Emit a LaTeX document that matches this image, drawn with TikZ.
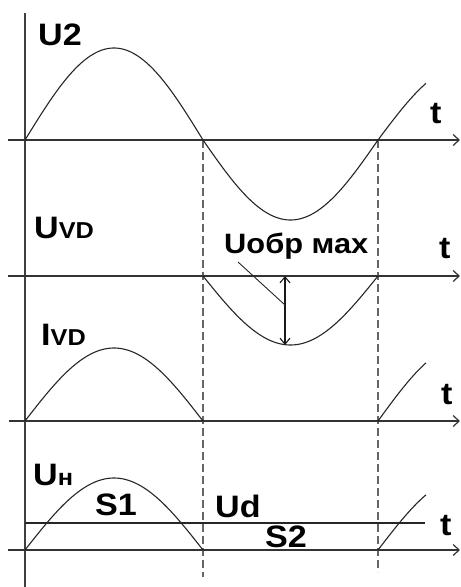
\documentclass[tikz,border=0pt]{standalone}
\usepackage{fontspec}
\setmainfont{Liberation Sans}
\newfontfamily\lblfam[FakeStretch=1.1]{Liberation Sans}
\usetikzlibrary{arrows.meta}
\newcommand\smlfont{\fontsize{23}{23}\selectfont}
\begin{document}
\begin{tikzpicture}[x=1pt,y=-1pt,
 axis/.style={line width=1.6pt, draw=black!80, -{Straight Barb[length=6pt,width=11pt,line width=1.2pt]}},
 vaxis/.style={line width=1.5pt, draw=black!75},
 curve/.style={line width=1.1pt, draw=black!85},
 guide/.style={line width=1.4pt, draw=black!60, dash pattern=on 8pt off 4pt},
 dim/.style={line width=1.2pt, draw=black!90, {Straight Barb[length=6pt,width=10pt,line width=1.1pt]}-{Straight Barb[length=6pt,width=10pt,line width=1.1pt]}},
 lead/.style={line width=0.9pt, draw=black!85},
 lbl/.style={anchor=base west, inner sep=0pt, font=\lblfam\bfseries\fontsize{31}{31}\selectfont}
]
\useasboundingbox (0,0) rectangle (461,587);
% coordinates
\coordinate (vtop) at (25,13);
\coordinate (vbot) at (25,587);
\coordinate (a1s) at (8,140);  \coordinate (a1e) at (460,140);
\coordinate (a2s) at (8,276);  \coordinate (a2e) at (460,276);
\coordinate (a3s) at (9,421);  \coordinate (a3e) at (460,421);
\coordinate (a4s) at (8,550);  \coordinate (a4e) at (460,550);
\coordinate (g1t) at (203,140); \coordinate (g1b) at (203,577);
\coordinate (g2t) at (378,140); \coordinate (g2b) at (378,572);
\coordinate (uds) at (25,523);  \coordinate (ude) at (425,523);
\coordinate (dtop) at (285,276); \coordinate (dbot) at (285,345);
\coordinate (ls) at (238,262);  \coordinate (le) at (285,305);
% guides
\draw[guide] (g1t) -- (g1b);
\draw[guide] (g2t) -- (g2b);
% axes
\draw[vaxis] (vtop) -- (vbot);
\draw[axis] (a1s) -- (a1e);
\draw[axis] (a2s) -- (a2e);
\draw[axis] (a3s) -- (a3e);
\draw[axis] (a4s) -- (a4e);
% U2
\draw[curve] plot[domain=0:180, samples=80, smooth] ({25+0.98889*\x}, {140-92*sin(\x)});
\draw[curve] plot[domain=0:180, samples=80, smooth] ({203+0.97222*\x}, {140+80*sin(\x)});
\draw[curve] plot[domain=0:49, samples=30, smooth] ({378+0.97778*\x}, {140-75*sin(\x)});
% UVD
\draw[curve] plot[domain=0:180, samples=80, smooth] ({203+0.97222*\x}, {276+69*sin(\x)});
% IVD
\draw[curve] plot[domain=0:180, samples=80, smooth] ({25+0.98889*\x}, {421-73*sin(\x)});
\draw[curve] plot[domain=0:49, samples=30, smooth] ({378+0.97778*\x}, {421-77*sin(\x)});
% UH
\draw[curve] plot[domain=0:180, samples=80, smooth] ({25+0.98889*\x}, {550-72*sin(\x)});
\draw[curve] plot[domain=0:49, samples=30, smooth] ({378+0.97778*\x}, {550-73*sin(\x)});
\draw[line width=1.3pt, draw=black!85] (uds) -- (ude);
% dimension
\draw[dim] (dtop) -- (dbot);
\draw[lead] (ls) -- (le);
% labels
\node[lbl] (u2) at (38,45) {U2};
\node[lbl] (t1) at (430,123) {t};
\node[lbl] (uvd) at (34,238) {U{\smlfont VD}};
\node[lbl, font=\lblfam\bfseries\fontsize{28}{28}\selectfont] (uobr) at (224,253) {Uобр мах};
\node[lbl] (t2) at (439,258) {t};
\node[lbl] (ivd) at (41,345) {I{\smlfont VD}};
\node[lbl] (t3) at (441,404) {t};
\node[lbl] (uh) at (33,485) {U{\smlfont н}};
\node[lbl] (s1) at (95,515) {S1};
\node[lbl] (ud) at (215,517) {Ud};
\node[lbl] (s2) at (265,547) {S2};
\node[lbl] (t4) at (440,535) {t};
\end{tikzpicture}
\end{document}
